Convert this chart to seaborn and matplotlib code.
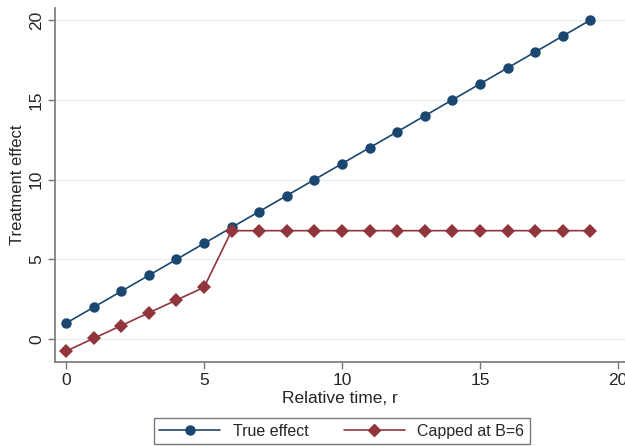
import matplotlib
matplotlib.use("Agg")

import matplotlib.pyplot as plt
import pandas as pd
import seaborn as sns

# ── Data ───────────────────────────────────────────────────────────────
rel_time = list(range(20))
true_effect = [1, 2, 3, 4, 5, 6, 7, 8, 9, 10, 11, 12, 13, 14, 15, 16, 17, 18, 19, 20]
capped = [-0.75, 0.05, 0.85, 1.65, 2.45, 3.25, 6.8, 6.8, 6.8, 6.8,
          6.8, 6.8, 6.8, 6.8, 6.8, 6.8, 6.8, 6.8, 6.8, 6.8]
series_names = ["True effect", "Capped at B=6"]

NAVY = "#1a476f"
MAROON = "#90353b"

df = pd.DataFrame({
    "r": rel_time * 2,
    "effect": true_effect + capped,
    "series": [series_names[0]] * 20 + [series_names[1]] * 20,
})

sns.set_style("white")
plt.rcParams["font.family"] = ["Liberation Sans", "DejaVu Sans"]

fig = plt.figure(figsize=(6.25, 4.46), dpi=100)
ax = fig.add_axes([0.088, 0.188, 0.912, 0.794])

sns.lineplot(
    data=df, x="r", y="effect", hue="series", style="series",
    palette={series_names[0]: NAVY, series_names[1]: MAROON},
    markers={series_names[0]: "o", series_names[1]: "D"},
    dashes=False, markersize=7.5, markeredgewidth=0, linewidth=1.2,
    ax=ax, legend=False,
)

ax.set_xlim(-0.4, 20.25)
ax.set_ylim(-1.44, 20.75)
ax.set_xticks([0, 5, 10, 15, 20])
ax.set_yticks([0, 5, 10, 15, 20])
ax.yaxis.grid(True, color="#e6eef0", linewidth=1)
ax.xaxis.grid(False)
sns.despine(ax=ax)
for side in ["left", "bottom"]:
    ax.spines[side].set_color("#777777")
    ax.spines[side].set_linewidth(1.2)
ax.tick_params(axis="both", direction="out", length=5, width=1, color="#777777",
               labelsize=12.5, bottom=True, left=True, pad=3)
plt.setp(ax.get_yticklabels(), rotation=90, va="center")
ax.set_xlabel("Relative time, r", fontsize=12.5, labelpad=2)
ax.set_ylabel("Treatment effect", fontsize=12, labelpad=3)

handles = [
    plt.Line2D([], [], color=NAVY, marker="o", markersize=6.5, linewidth=1.2),
    plt.Line2D([], [], color=MAROON, marker="D", markersize=6, linewidth=1.2),
]
leg = fig.legend(
    handles, series_names, loc="center", ncol=2, fontsize=11.5,
    bbox_to_anchor=(0.547, 0.0335), fancybox=False, frameon=True,
    handlelength=3.8, columnspacing=2.2, borderpad=0.35,
)
leg.get_frame().set_edgecolor("#555555")
leg.get_frame().set_linewidth(1)

fig.savefig("out.png", dpi=100)
